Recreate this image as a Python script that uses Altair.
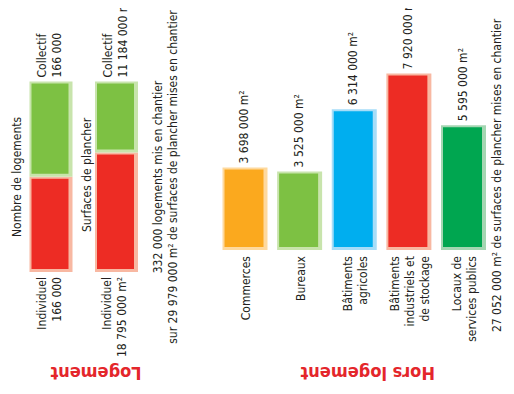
import altair as alt
import pandas as pd

# ---------------- data ----------------
log_categories = ["Nombre de logements", "Surfaces de plancher"]
log_individuel = [166000, 18795000]
log_collectif = [166000, 11184000]
log_individuel_labels = ["Individuel\n166 000", "Individuel\n18 795 000 m²"]
log_collectif_labels = ["Collectif\n166 000", "Collectif\n11 184 000 m²"]
log_side_labels = ["Nombre de logements", "Surfaces de plancher"]
log_note = "332 000 logements mis en chantier\nsur 29 979 000 m² de surfaces de plancher mises en chantier"
log_title = "Logement"

hors_categories = ["Commerces", "Bureaux", "Bâtiments agricoles",
                   "Bâtiments industriels et de stockage", "Locaux de services publics"]
hors_labels = ["Commerces", "Bureaux", "Bâtiments\nagricoles",
               "Bâtiments\nindustriels et\nde stockage", "Locaux de\nservices publics"]
hors_values = [3698000, 3525000, 6314000, 7920000, 5595000]
hors_value_labels = ["3 698 000 m²", "3 525 000 m²", "6 314 000 m²", "7 920 000 m²", "5 595 000 m²"]
hors_note = "27 052 000 m² de surfaces de plancher mises en chantier"
hors_title = "Hors logement"

# ---------------- styles ----------------
FONT = "DejaVu Sans Condensed"
FS = 12
LH = 15
TITLE_FS = 18
TEXT = "#231F20"
TITLE_RED = "#E4262B"
RED, RED_L = "#ED2C24", "#F8B8A2"
GREEN, GREEN_L = "#7DC143", "#C8E4AC"
ORANGE, ORANGE_L = "#FBA91E", "#FED99E"
BLUE, BLUE_L = "#00AEEF", "#A6DDF8"
DKGREEN, DKGREEN_L = "#00A650", "#A4D6B2"
seg_colors = {"Individuel": (RED, RED_L), "Collectif": (GREEN, GREEN_L)}
hors_colors = [(ORANGE, ORANGE_L), (GREEN, GREEN_L), (BLUE, BLUE_L), (RED, RED_L), (DKGREEN, DKGREEN_L)]

# ---------------- tables ----------------
seg_rows = []
for i, cat in enumerate(log_categories):
    total = log_individuel[i] + log_collectif[i]
    s1 = log_individuel[i] / total
    seg_rows.append(dict(cat=cat, seg="Individuel", start=0.0, end=s1,
                         fill=seg_colors["Individuel"][0], light=seg_colors["Individuel"][1]))
    seg_rows.append(dict(cat=cat, seg="Collectif", start=s1, end=1.0,
                         fill=seg_colors["Collectif"][0], light=seg_colors["Collectif"][1]))
seg_df = pd.DataFrame(seg_rows)

log_lab_df = pd.DataFrame(dict(cat=log_categories, ind=log_individuel_labels,
                               col=log_collectif_labels, side=log_side_labels,
                               top=[1.0] * len(log_categories), base=[0.0] * len(log_categories)))

hors_df = pd.DataFrame(dict(cat=hors_categories, label=hors_labels, value=hors_values,
                            vlabel=hors_value_labels, base=[0] * len(hors_categories),
                            fill=[c[0] for c in hors_colors], light=[c[1] for c in hors_colors]))

# ---------------- scales ----------------
xl = alt.X("cat:N", axis=None,
           scale=alt.Scale(type="point", domain=log_categories, range=[43, 108.5], padding=0))
yl_scale = alt.Scale(domain=[0, 1], range=[264, 73.5], zero=False, nice=False)

xr = alt.X("cat:N", axis=None,
           scale=alt.Scale(type="point", domain=hors_categories, range=[237, 455.5], padding=0))
yr_scale = alt.Scale(domain=[0, 8000000], range=[242, 63.6], zero=False, nice=False)


def txt(**kw):
    base = dict(font=FONT, fontSize=FS, lineHeight=LH, color=TEXT, lineBreak="\n")
    base.update(kw)
    return base


def rotated_labels(df, field, xenc, yfield, yscale, xoff=0.0, **kw):
    """Rotated (bottom-to-top) labels; multi-line blocks are centred on the anchor."""
    nlines = df[field].str.count("\n") + 1
    out = []
    for k in sorted(nlines.unique()):
        sub = df[nlines == k]
        out.append(alt.Chart(sub).mark_text(**txt(angle=270, baseline="middle",
                                                  xOffset=xoff - (k - 1) * LH / 2, **kw)).encode(
            x=xenc, y=alt.Y(f"{yfield}:Q", scale=yscale, axis=None), text=f"{field}:N"))
    return out


# ---------------- left panel ----------------
outer_l = alt.Chart(seg_df).mark_bar(size=43).encode(
    x=xl, y=alt.Y("end:Q", scale=yl_scale, axis=None), y2="start:Q",
    color=alt.Color("light:N", scale=None))
inner_l = alt.Chart(seg_df).mark_bar(size=37, xOffset=-1, yOffset=2, y2Offset=-3).encode(
    x=xl, y=alt.Y("end:Q", scale=yl_scale, axis=None), y2="start:Q",
    color=alt.Color("fill:N", scale=None))

left_layers = [outer_l, inner_l]
left_layers += rotated_labels(log_lab_df, "col", xl, "top", yl_scale, xoff=-1.5, align="left", yOffset=-4)
left_layers += rotated_labels(log_lab_df, "ind", xl, "base", yl_scale, xoff=-2, align="right", yOffset=5)
left_layers += rotated_labels(log_lab_df.iloc[[0]], "side", xl, "base", yl_scale, xoff=-34,
                              align="left", yOffset=-35)
left_layers += rotated_labels(log_lab_df.iloc[[1]], "side", xl, "base", yl_scale, xoff=-29.5,
                              align="left", yOffset=-40)
note_df_l = pd.DataFrame(dict(cat=[log_categories[1]], base=[0.0], t=[log_note]))
left_layers += rotated_labels(note_df_l, "t", xl, "base", yl_scale, xoff=49, align="center", yOffset=-95)
title_df_l = pd.DataFrame(dict(cat=[log_categories[0]], base=[0.0], t=[log_title]))
left_layers.append(alt.Chart(title_df_l).mark_text(font=FONT, fontSize=TITLE_FS, fontWeight="bold",
                                                   color=TITLE_RED, angle=180, align="center",
                                                   baseline="middle", xOffset=45, yOffset=100).encode(
    x=xl, y=alt.Y("base:Q", scale=yl_scale, axis=None), text="t:N"))

left = alt.layer(*left_layers)

# ---------------- right panel ----------------
outer_r = alt.Chart(hors_df).mark_bar(size=45).encode(
    x=xr, y=alt.Y("value:Q", scale=yr_scale, axis=None), y2="base:Q",
    color=alt.Color("light:N", scale=None))
inner_r = alt.Chart(hors_df).mark_bar(size=39, xOffset=-1, yOffset=2, y2Offset=-3).encode(
    x=xr, y=alt.Y("value:Q", scale=yr_scale, axis=None), y2="base:Q",
    color=alt.Color("fill:N", scale=None))

right_layers = [outer_r, inner_r]
right_layers += rotated_labels(hors_df, "vlabel", xr, "value", yr_scale, xoff=-1, align="left", yOffset=-4)
right_layers += rotated_labels(hors_df, "label", xr, "base", yr_scale, xoff=1, align="right", yOffset=6)
note_df_r = pd.DataFrame(dict(cat=[hors_categories[-1]], base=[0.0], t=[hors_note]))
right_layers += rotated_labels(note_df_r, "t", xr, "base", yr_scale, xoff=33.5, align="center", yOffset=-74.5)
title_df_r = pd.DataFrame(dict(cat=[hors_categories[2]], base=[0.0], t=[hors_title]))
right_layers.append(alt.Chart(title_df_r).mark_text(font=FONT, fontSize=TITLE_FS, fontWeight="bold",
                                                    color=TITLE_RED, angle=180, align="center",
                                                    baseline="middle", xOffset=13.5, yOffset=122).encode(
    x=xr, y=alt.Y("base:Q", scale=yr_scale, axis=None), text="t:N"))

right = alt.layer(*right_layers)

chart = alt.layer(left, right).resolve_scale(x="independent", y="independent").properties(
    width=498, height=378, padding=0,
    autosize=alt.AutoSizeParams(type="none"),
    background="white",
).configure_view(stroke=None)

chart.save("out.html", embed_options={"renderer": "svg", "actions": False})
